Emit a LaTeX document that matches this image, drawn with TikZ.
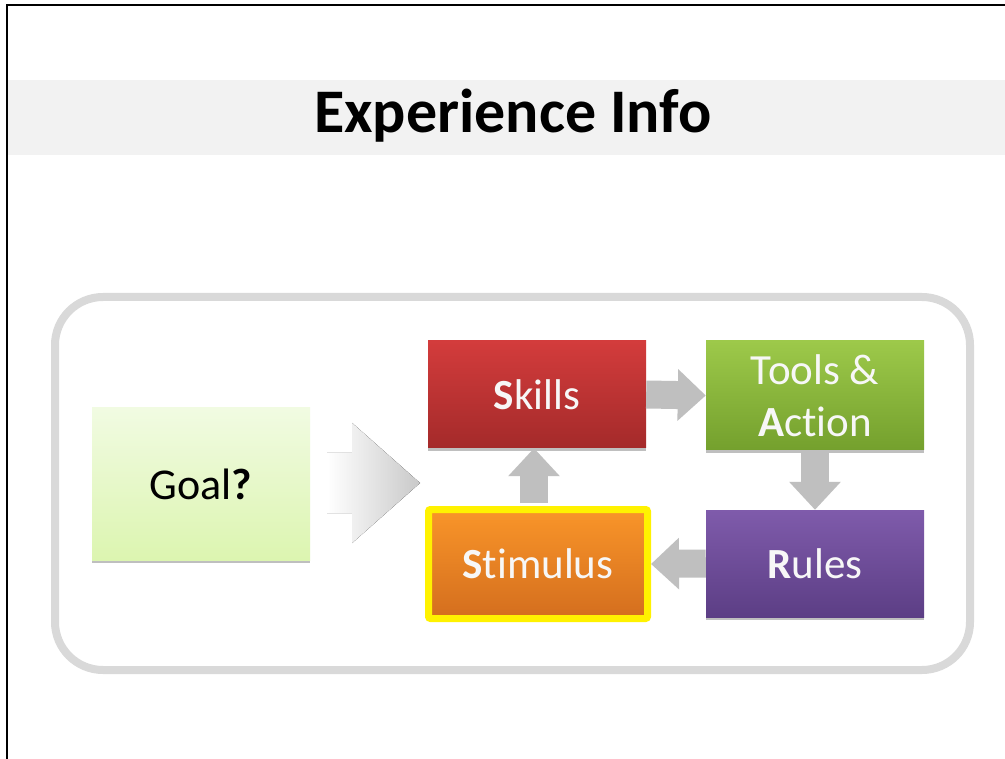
\documentclass[tikz,border=0pt]{standalone}
\usepackage{fontspec}
\setmainfont{Carlito}[Ligatures=NoCommon]
\usetikzlibrary{calc,shadows,arrows.meta}
\definecolor{band}{HTML}{F2F2F2}
\definecolor{frame}{HTML}{D9D9D9}
\definecolor{arrgray}{HTML}{BFBFBF}
\definecolor{goaltop}{HTML}{F1FBE2}
\definecolor{goalbot}{HTML}{DCF5B0}
\definecolor{redtop}{HTML}{D33C3C}
\definecolor{redbot}{HTML}{A42A2A}
\definecolor{greentop}{HTML}{9DC94A}
\definecolor{greenbot}{HTML}{74A02D}
\definecolor{purptop}{HTML}{7F5BAB}
\definecolor{purpbot}{HTML}{5C3E85}
\definecolor{orgtop}{HTML}{F99529}
\definecolor{orgbot}{HTML}{D46E1E}
\definecolor{txtwhite}{HTML}{F7F7F7}
\tikzset{
  box/.style={minimum width=218pt, minimum height=107pt, inner sep=0pt, align=center,
    text=txtwhite, font=\fontsize{43}{52}\selectfont,
    drop shadow={shadow xshift=0pt, shadow yshift=-3pt, opacity=0.25, fill=black}},
  blockarrow/.style={draw=arrgray, line width=28pt,
    -{Triangle[width=50pt,length=28pt]}},
}
\begin{document}
\begin{tikzpicture}[x=1pt,y=-1pt]
\useasboundingbox (0,0) rectangle (1005,759);
\fill[white] (0,0) rectangle (1005,759);
\fill[band] (8,80) rectangle (1005,155);
\draw[line width=2pt] (7,759) -- (7,5) -- (1005,5);
\node[font=\bfseries\fontsize{62}{64}\selectfont] (title) at (513,116) {Experience Info};
\draw[line width=8pt, draw=frame, rounded corners=48pt] (55,297) rectangle (970,670);

\node[box, text=black, top color=goaltop, bottom color=goalbot, minimum height=152pt,
  font=\fontsize{44}{50}\selectfont] (goal) at (201,484) {Goal\textbf{?}};
\node[box, top color=redtop, bottom color=redbot] (skills) at (537,394.5) {\textbf{S}kills};
\node[box, top color=greentop, bottom color=greenbot, minimum height=109pt] (tools) at (815,395.5) {Tools \&\\\textbf{A}ction};
\node[box, top color=purptop, bottom color=purpbot] (rules) at (815,563.5) {\textbf{R}ules};
\node[box, top color=orgtop, bottom color=orgbot, draw=yellow, line width=7pt,
  minimum width=219pt, minimum height=109pt, rounded corners=2pt] (stim) at (538,564) {\textbf{S}timulus};

\draw[blockarrow] (skills.east) -- (tools.west);
\draw[blockarrow] (tools.south) -- (rules.north);
\draw[blockarrow] (rules.west) -- (stim.east);
\draw[blockarrow] ($(stim.north)+(-4,-3)$) -- ($(skills.south)+(-3,0)$);

\coordinate (cyc) at (420,483);
\fill[left color=white, right color=arrgray!85]
  ($(goal.east)+(17,-31)$) -- ($(goal.east)+(42,-31)$) -- ($(goal.east)+(42,-61)$)
  -- (cyc) -- ($(goal.east)+(42,59)$) -- ($(goal.east)+(42,29)$) -- ($(goal.east)+(17,29)$) -- cycle;
\end{tikzpicture}
\end{document}
